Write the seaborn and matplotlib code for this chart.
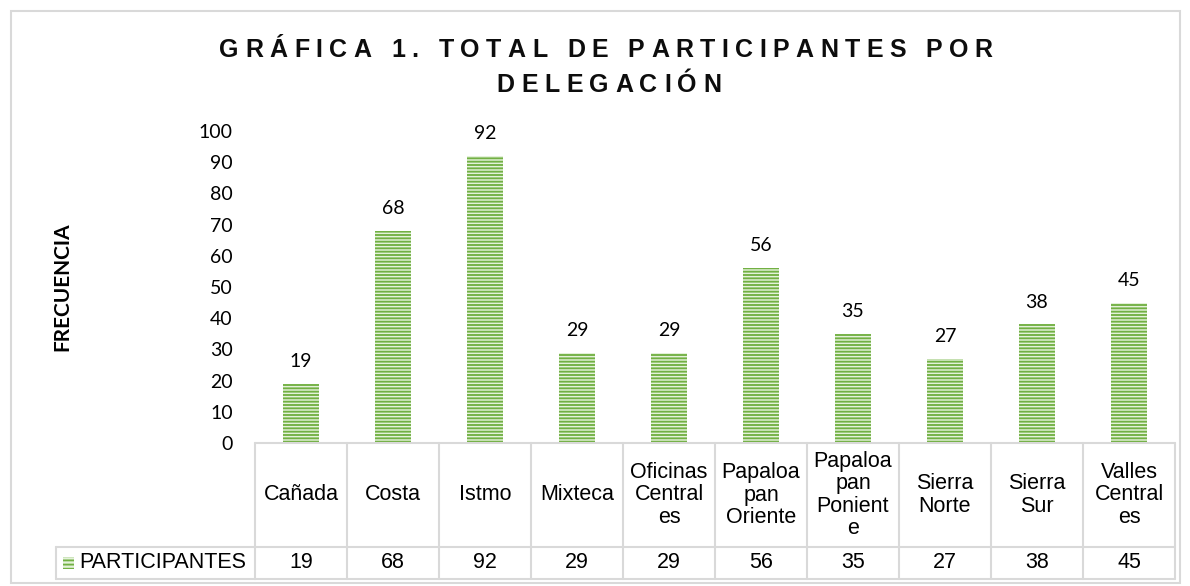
import matplotlib
matplotlib.use("Agg")
import matplotlib.pyplot as plt
import matplotlib.patches as mpatches
import matplotlib.transforms as mtransforms
from matplotlib import font_manager, ft2font
import seaborn as sns
import pandas as pd

# ---- data ----
categories = ["Cañada", "Costa", "Istmo", "Mixteca", "Oficinas Centrales",
              "Papaloapan Oriente", "Papaloapan Poniente", "Sierra Norte",
              "Sierra Sur", "Valles Centrales"]
table_labels = ["Cañada", "Costa", "Istmo", "Mixteca", "Oficinas\nCentral\nes",
                "Papaloa\npan\nOriente", "Papaloa\npan\nPonient\ne", "Sierra\nNorte",
                "Sierra\nSur", "Valles\nCentral\nes"]
participantes = [19, 68, 92, 29, 29, 56, 35, 27, 38, 45]
series_name = "PARTICIPANTES"
title_line1 = "GRÁFICA 1. TOTAL DE PARTICIPANTES POR"
title_line2 = "DELEGACIÓN"
y_label = "FRECUENCIA"
y_ticks = [0, 10, 20, 30, 40, 50, 60, 70, 80, 90, 100]

df = pd.DataFrame({"cat": categories, "val": participantes})

sns.set_theme(style="white")
plt.rcParams["hatch.linewidth"] = 1.35

W, H = 1190, 586
DPI = 100
fig = plt.figure(figsize=(W / DPI, H / DPI), dpi=DPI)

def fx(px):
    return px / W

def fy(py):
    return 1 - py / H

ax_left, ax_right, ax_top, ax_bot = 255, 1175, 131, 443
ax = fig.add_axes([fx(ax_left), fy(ax_bot), fx(ax_right - ax_left), (ax_bot - ax_top) / H])

green_edge = "#72B043"
green_face = "#E4F2DA"

sns.barplot(data=df, x="cat", y="val", ax=ax, width=0.39, color=green_face,
            saturation=1, edgecolor=green_edge, linewidth=0, hatch="-----")
for p in ax.patches:
    p.set_hatch("-----")
    p.set_edgecolor(green_edge)
    p.set_linewidth(0)

ax.set_ylim(0, 100)
ax.set_xlim(-0.5, len(categories) - 0.5)
ax.set_yticks(y_ticks)
ax.set_yticklabels([str(t) for t in y_ticks], fontfamily="Lato", fontsize=14, color="#000000")
ax.tick_params(axis="y", length=0, pad=16)
ax.tick_params(axis="x", length=0, labelbottom=False)
ax.set_xlabel("")
ax.set_ylabel("")
for s in ax.spines.values():
    s.set_visible(False)
ax.grid(False)

for cont in ax.containers:
    ax.bar_label(cont, labels=[str(v) for v in participantes], padding=10,
                 fontfamily="Lato", fontsize=14, color="#000000")

# y label
fig.text(fx(62), fy(287), y_label, rotation=90, ha="center", va="center",
         fontfamily="Lato", fontweight="bold", fontsize=15, color="#000000")

# title with letter spacing: characters placed one by one
title_fs = 18
tprop = font_manager.FontProperties(family="Liberation Sans", weight="bold", size=title_fs)
tfont = ft2font.FT2Font(font_manager.findfont(tprop))
tfont.set_size(title_fs, DPI)

def advance(ch):
    g = tfont.load_char(ord(ch))
    return g.linearHoriAdvance / 65536.0

def draw_spaced(text, cx, baseline, spacing):
    advs = [advance(c) for c in text]
    total = sum(advs) + spacing * (len(text) - 1)
    x = cx - total / 2
    for c, a in zip(text, advs):
        if c != " ":
            fig.text(fx(x), fy(baseline), c, ha="left", va="baseline",
                     fontproperties=tprop, color="#0D0D0D")
        x += a + spacing

draw_spaced(title_line1, 606, 57, 6.4)
draw_spaced(title_line2, 609, 92, 6.4)

# data table
grid_c = "#D9D9D9"
lw = 1.5
tr = mtransforms.blended_transform_factory(ax.transData, fig.transFigure)
n = len(categories)
y0, y1, y2 = fy(443), fy(547), fy(579)
for yy in (y0, y1, y2):
    ax.add_line(plt.Line2D([-0.5, n - 0.5], [yy, yy], transform=tr, color=grid_c,
                           lw=lw, clip_on=False))
for i in range(n + 1):
    ax.add_line(plt.Line2D([i - 0.5, i - 0.5], [y0, y2], transform=tr, color=grid_c,
                           lw=lw, clip_on=False))
fig.add_artist(plt.Line2D([fx(56), fx(ax_left)], [y1, y1], color=grid_c, lw=lw))
fig.add_artist(plt.Line2D([fx(56), fx(ax_left)], [y2, y2], color=grid_c, lw=lw))
fig.add_artist(plt.Line2D([fx(56), fx(56)], [y1, y2], color=grid_c, lw=lw))

tab_fs = 15.5
for i, (lab, v) in enumerate(zip(table_labels, participantes)):
    ax.text(i, (y0 + y1) / 2, lab, transform=tr, ha="center", va="center",
            fontfamily="Liberation Sans", fontsize=tab_fs, color="#000000",
            linespacing=1.1, clip_on=False)
    ax.text(i, (y1 + y2) / 2, str(v), transform=tr, ha="center", va="center",
            fontfamily="Liberation Sans", fontsize=tab_fs, color="#000000", clip_on=False)

key = mpatches.Rectangle((fx(63), fy(569)), fx(11), 12 / H, transform=fig.transFigure,
                         facecolor=green_face, edgecolor=green_edge, hatch="----", lw=0)
fig.add_artist(key)
fig.text(fx(79), (y1 + y2) / 2, series_name, ha="left", va="center",
         fontfamily="Liberation Sans", fontsize=tab_fs, color="#000000")

fig.add_artist(mpatches.Rectangle((fx(11), fy(583)), fx(1169), (583 - 11) / H,
                                  transform=fig.transFigure, fill=False,
                                  edgecolor=grid_c, lw=1.5))

fig.savefig("out.png", dpi=DPI)
